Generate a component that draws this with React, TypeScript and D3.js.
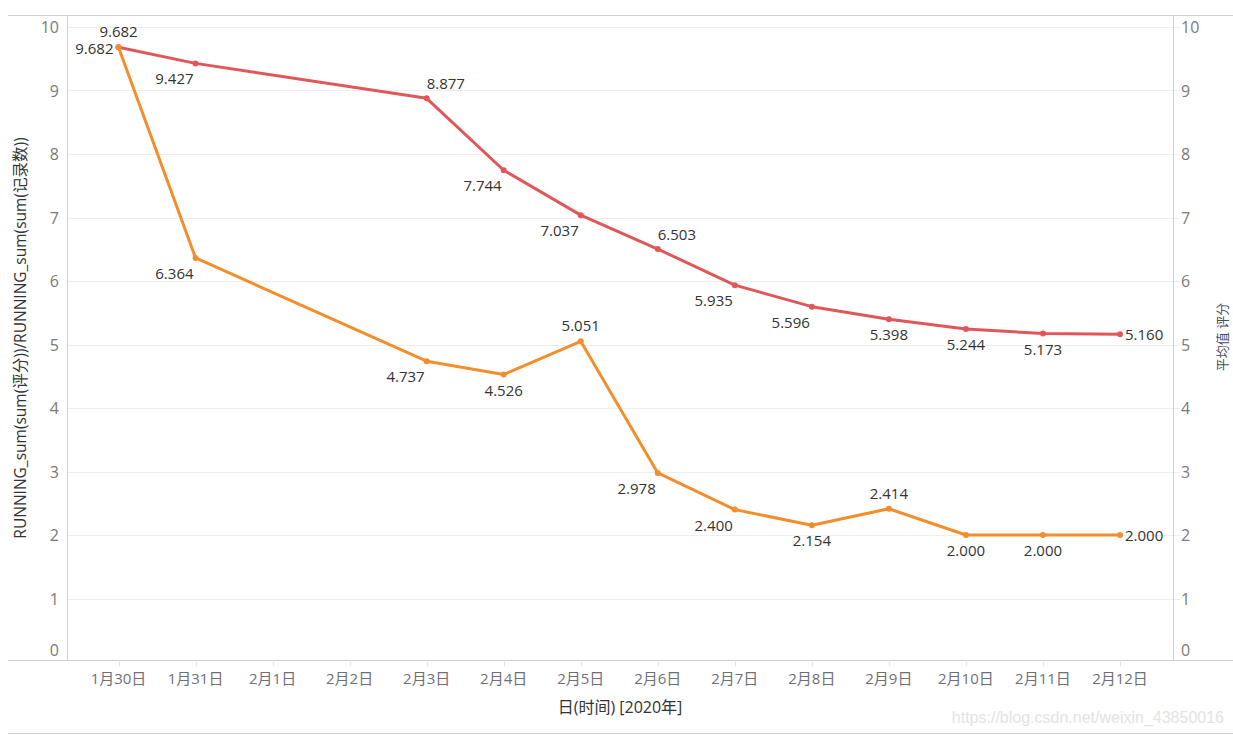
import React from "react";
import * as d3 from "d3";

const days = ["1月30日", "1月31日", "2月1日", "2月2日", "2月3日", "2月4日", "2月5日", "2月6日", "2月7日", "2月8日", "2月9日", "2月10日", "2月11日", "2月12日"];
const dataDays = ["1月30日", "1月31日", "2月3日", "2月4日", "2月5日", "2月6日", "2月7日", "2月8日", "2月9日", "2月10日", "2月11日", "2月12日"];
const avgScore = [9.682, 9.427, 8.877, 7.744, 7.037, 6.503, 5.935, 5.596, 5.398, 5.244, 5.173, 5.16];
const runningScore = [9.682, 6.364, 4.737, 4.526, 5.051, 2.978, 2.4, 2.154, 2.414, 2.0, 2.0, 2.0];
const avgLabelPos = ["above", "belowLeft", "aboveRight", "belowLeft", "belowLeft", "aboveRight", "belowLeft", "belowLeft", "below", "below", "below", "right"];
const runLabelPos = ["left", "belowLeft", "belowLeft", "below", "above", "belowLeft", "belowLeft", "below", "above", "below", "below", "right"];
const yTicks = [0, 1, 2, 3, 4, 5, 6, 7, 8, 9, 10];

const FONT = "'Open Sans', 'Noto Sans CJK SC', sans-serif";

function labelProps(pos: string, x: number, y: number) {
  switch (pos) {
    case "above":
      return { x, y: y - 16, anchor: "middle" };
    case "below":
      return { x, y: y + 15, anchor: "middle" };
    case "belowLeft":
      return { x: x - 2, y: y + 15, anchor: "end" };
    case "aboveRight":
      return { x: x, y: y - 15, anchor: "start" };
    case "right":
      return { x: x + 5, y, anchor: "start" };
    case "left":
      return { x: x - 5, y: y + 1, anchor: "end" };
    default:
      return { x, y, anchor: "middle" };
  }
}

export default function App() {
  const W = 1233, H = 735;
  const left = 67, right = 1173, top = 15, bottom = 660;
  const x = d3.scalePoint<string>().domain(days).range([118.5, 1120]);
  const y = d3.scaleLinear().domain([0, 10]).range([662, 27]);
  const line = d3.line<number>().x((_, i) => x(dataDays[i])!).y((d) => y(d));

  const series = [
    { values: avgScore, color: "#e15759", pos: avgLabelPos },
    { values: runningScore, color: "#f28e2b", pos: runLabelPos },
  ];

  return (
    <svg width={W} height={H} style={{ position: "absolute", left: 0, top: 0 }} fontFamily={FONT}>
      <rect x={0} y={0} width={W} height={H} fill="#fff" />
      {yTicks.filter((t) => t > 0).map((t) => (
        <line key={"g" + t} x1={left} x2={right + 7} y1={Math.round(y(t)) + 0.5} y2={Math.round(y(t)) + 0.5} stroke="#eeeeee" />
      ))}
      <line x1={8} x2={W} y1={top + 0.5} y2={top + 0.5} stroke="#d0d0d0" />
      <line x1={8} x2={W} y1={bottom + 0.5} y2={bottom + 0.5} stroke="#d0d0d0" />
      <line x1={8} x2={W} y1={733.5} y2={733.5} stroke="#d0d0d0" />
      <line x1={left + 0.5} x2={left + 0.5} y1={top} y2={bottom} stroke="#d0d0d0" />
      <line x1={right + 0.5} x2={right + 0.5} y1={top} y2={bottom} stroke="#d0d0d0" />
      {days.map((d) => (
        <g key={d}>
          <line x1={Math.round(x(d)!) + 0.5} x2={Math.round(x(d)!) + 0.5} y1={bottom} y2={bottom + 6} stroke="#e6e6e6" />
          <text x={x(d)} y={678} textAnchor="middle" dominantBaseline="central" fontSize={15} fill="#6f6f78">
            {d}
          </text>
        </g>
      ))}
      {yTicks.map((t) => (
        <g key={"t" + t}>
          <text x={59} y={Math.min(y(t), 650)} textAnchor="end" dominantBaseline="central" fontSize={16} fill="#7a7a7a">
            {t}
          </text>
          <text x={1181} y={Math.min(y(t), 650)} textAnchor="start" dominantBaseline="central" fontSize={16} fill="#7a7a7a">
            {t}
          </text>
        </g>
      ))}
      <text transform="translate(20,338) rotate(-90)" textAnchor="middle" dominantBaseline="central" fontSize={15.5} fill="#333">
        RUNNING_sum(sum(评分))/RUNNING_sum(sum(记录数))
      </text>
      <text transform="translate(1222,337) rotate(-90)" textAnchor="middle" dominantBaseline="central" fontSize={13} fill="#4a4a5a">
        平均值 评分
      </text>
      <text x={620} y={707} textAnchor="middle" dominantBaseline="central" fontSize={16} fill="#333">
        日(时间) [2020年]
      </text>
      {series.map((s, si) => (
        <g key={"s" + si}>
          <path d={line(s.values)!} fill="none" stroke={s.color} strokeWidth={3} strokeLinejoin="round" />
          {s.values.map((v, i) => (
            <circle key={i} cx={x(dataDays[i])} cy={y(v)} r={3} fill={s.color} />
          ))}
        </g>
      ))}
      {series.map((s, si) => (
        <g key={"l" + si}>
          {s.values.map((v, i) => {
            const p = labelProps(s.pos[i], x(dataDays[i])!, y(v));
            return (
              <text key={i} x={p.x} y={p.y} textAnchor={p.anchor} dominantBaseline="central" fontSize={15} fill="#333">
                {v.toFixed(3)}
              </text>
            );
          })}
        </g>
      ))}
      <text x={1224} y={717} textAnchor="end" dominantBaseline="central" fontSize={16} fill="#e3e3e3" fontFamily="'Liberation Sans', Arial, sans-serif">
        https://blog.csdn.net/weixin_43850016
      </text>
    </svg>
  );
}
